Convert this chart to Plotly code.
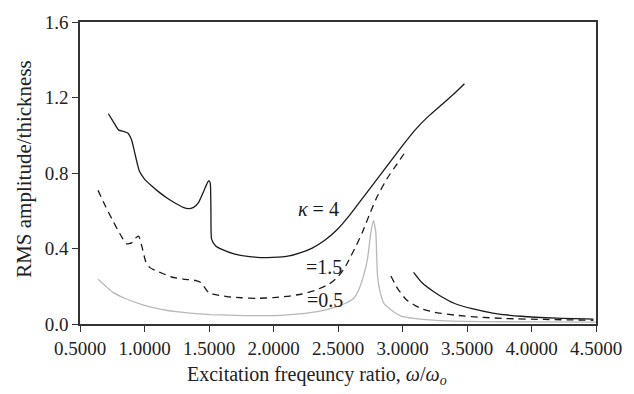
import plotly.graph_objects as go

# kappa = 4, lower-frequency branch
k4_lo_x = [0.72, 0.76, 0.80, 0.84, 0.87, 0.90, 0.93, 0.96, 1.00, 1.05, 1.11, 1.18, 1.24,
           1.30, 1.34, 1.38, 1.42, 1.46, 1.49, 1.50, 1.51, 1.515, 1.52, 1.55, 1.60, 1.70,
           1.80, 1.95, 2.10, 2.20, 2.30, 2.40, 2.50, 2.60, 2.70, 2.80, 2.90, 3.00, 3.10,
           3.20, 3.30, 3.40, 3.48]
k4_lo_y = [1.114, 1.07, 1.027, 1.02, 1.012, 0.975, 0.89, 0.81, 0.768, 0.735, 0.700, 0.665,
           0.640, 0.618, 0.611, 0.618, 0.645, 0.705, 0.752, 0.760, 0.745, 0.60, 0.45, 0.415,
           0.395, 0.370, 0.358, 0.352, 0.358, 0.375, 0.402, 0.445, 0.505, 0.585, 0.675, 0.765,
           0.855, 0.945, 1.03, 1.10, 1.16, 1.22, 1.273]
# kappa = 4, upper-frequency branch
k4_hi_x = [3.086, 3.15, 3.24, 3.29, 3.40, 3.54, 3.70, 3.92, 4.20, 4.48]
k4_hi_y = [0.274, 0.22, 0.172, 0.150, 0.110, 0.081, 0.058, 0.041, 0.031, 0.026]

# kappa = 1.5
k15_lo_x = [0.64, 0.70, 0.76, 0.82, 0.86, 0.90, 0.93, 0.955, 0.98, 1.01, 1.04, 1.08, 1.15,
            1.21, 1.30, 1.40, 1.44, 1.47, 1.50, 1.55, 1.64, 1.75, 1.87, 2.00, 2.10, 2.22,
            2.32, 2.43, 2.50, 2.55, 2.60, 2.63, 2.69, 2.75, 2.80, 2.88, 2.96, 3.03]
k15_lo_y = [0.708, 0.62, 0.54, 0.465, 0.425, 0.43, 0.455, 0.466, 0.41, 0.33, 0.30, 0.285,
            0.265, 0.249, 0.238, 0.230, 0.218, 0.19, 0.165, 0.155, 0.145, 0.139, 0.136, 0.140,
            0.146, 0.159, 0.178, 0.211, 0.25, 0.295, 0.36, 0.40, 0.487, 0.59, 0.67, 0.77,
            0.85, 0.92]
k15_hi_x = [2.91, 2.96, 3.03, 3.10, 3.16, 3.25, 3.42, 3.60, 3.80, 4.10, 4.48]
k15_hi_y = [0.254, 0.19, 0.128, 0.097, 0.078, 0.062, 0.046, 0.036, 0.029, 0.024, 0.020]

# kappa = 0.5
k05_x = [0.64, 0.70, 0.75, 0.85, 1.00, 1.13, 1.26, 1.40, 1.51, 1.70, 1.87, 2.05, 2.22,
         2.35, 2.48, 2.56, 2.62, 2.66, 2.70, 2.73, 2.755, 2.775, 2.793, 2.806, 2.83, 2.86,
         2.93, 2.99, 3.09, 3.29, 3.60, 4.00, 4.50]
k05_y = [0.237, 0.20, 0.170, 0.135, 0.099, 0.078, 0.064, 0.055, 0.050, 0.046, 0.044, 0.046,
         0.055, 0.067, 0.090, 0.11, 0.135, 0.18, 0.26, 0.35, 0.487, 0.548, 0.487, 0.26, 0.16,
         0.105, 0.065, 0.042, 0.030, 0.018, 0.013, 0.011, 0.010]

x_ticks = [0.5, 1.0, 1.5, 2.0, 2.5, 3.0, 3.5, 4.0, 4.5]
y_ticks = [0.0, 0.4, 0.8, 1.2, 1.6]

curve_labels = ["<i>κ</i> = 4", "=1.5", "=0.5"]
label_x = [2.348, 2.388, 2.401]
label_y = [0.608, 0.304, 0.125]

x_title = "Excitation freqeuncy ratio, <i>ω</i>/<i>ω<sub>o</sub></i>"
y_title = "RMS amplitude/thickness"

SERIF = "Liberation Serif"
INK = "#222222"
SOLID = dict(color="#1a1a1a", width=1.3, shape="spline", smoothing=0.5)
DASHED = dict(color="#1a1a1a", width=1.3, dash="7px,5px", shape="spline", smoothing=0.5)
GRAY = dict(color="#b8b8b8", width=1.3, shape="spline", smoothing=0.4)

fig = go.Figure()
fig.add_trace(go.Scatter(x=k05_x, y=k05_y, mode="lines", line=GRAY))
fig.add_trace(go.Scatter(x=k15_lo_x, y=k15_lo_y, mode="lines", line=DASHED))
fig.add_trace(go.Scatter(x=k15_hi_x, y=k15_hi_y, mode="lines", line=DASHED))
fig.add_trace(go.Scatter(x=k4_lo_x, y=k4_lo_y, mode="lines", line=SOLID))
fig.add_trace(go.Scatter(x=k4_hi_x, y=k4_hi_y, mode="lines", line=SOLID))

for txt, lx, ly in zip(curve_labels, label_x, label_y):
    fig.add_annotation(x=lx, y=ly, text=txt, showarrow=False,
                       font=dict(family=SERIF, size=20, color="#1a1a1a"))

# axis titles placed in paper coordinates
fig.add_annotation(xref="paper", yref="paper", x=0.46, y=-0.172, text=x_title,
                   showarrow=False, xanchor="center", yanchor="middle",
                   font=dict(family=SERIF, size=20, color=INK))
fig.add_annotation(xref="paper", yref="paper", x=-0.109, y=0.513, text=y_title,
                   showarrow=False, xanchor="center", yanchor="middle", textangle=-90,
                   font=dict(family=SERIF, size=21, color=INK))

axis_common = dict(showgrid=False, zeroline=False, showline=True, linecolor="#333333",
                   linewidth=1.5, mirror=True, ticks="outside", ticklen=6, tickwidth=1.3,
                   tickcolor="#333333",
                   tickfont=dict(family=SERIF, size=19, color=INK))

fig.update_layout(
    width=634, height=394,
    margin=dict(l=80, r=28, t=15, b=70),
    paper_bgcolor="white", plot_bgcolor="white",
    showlegend=False,
    xaxis=dict(range=[0.5, 4.5], tickvals=x_ticks, tickformat=".4f", **axis_common),
    yaxis=dict(range=[0.0, 1.6], tickvals=y_ticks, tickformat=".1f", **axis_common),
)

fig.write_html("out.html")
